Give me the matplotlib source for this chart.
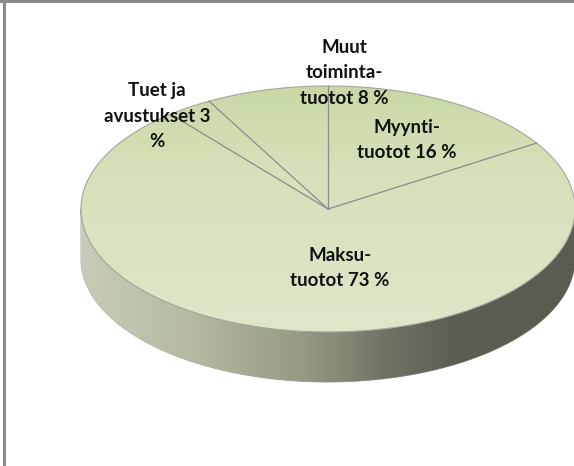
import numpy as np
import matplotlib.pyplot as plt
from matplotlib.patches import Polygon
from matplotlib.colors import LinearSegmentedColormap

# slices clockwise from 12 o'clock
labels = ['Myynti-\ntuotot 16 %', 'Maksu-\ntuotot 73 %',
          'Tuet ja\navustukset 3\n%', 'Muut\ntoiminta-\ntuotot 8 %']
shares = [16, 73, 3, 8]
# label anchors (pixel coords)
label_pos = [(407, 140), (340, 268), (157, 116), (344, 73)]

W, H = 574, 466
cx, cy = 328, 209       # ellipse centre
rx, ry = 247, 123       # ellipse radii
depth = 50

fig = plt.figure(figsize=(W / 100, H / 100), dpi=100)
ax = fig.add_axes([0, 0, 1, 1])
ax.set_xlim(0, W)
ax.set_ylim(H, 0)
ax.axis('off')


def pt(t, dy=0):
    t = np.radians(t)
    return cx + rx * np.cos(t), cy - ry * np.sin(t) + dy


# side of the cylinder (front half)
t = np.linspace(180, 360, 200)
xs, ys = pt(t)
xb, yb = pt(t[::-1], depth)
side = np.column_stack([np.r_[xs, xb], np.r_[ys, yb]])
side_patch = Polygon(side, closed=True, facecolor='none', edgecolor='#9a9a90', lw=0.6)
ax.add_patch(side_patch)
side_cmap = LinearSegmentedColormap.from_list(
    'side', [(0, '#c6ccb6'), (0.22, '#b4bba2'), (0.45, '#959a84'),
             (0.62, '#707364'), (0.75, '#5c5e53'), (1, '#5a5c52')])
grad = np.linspace(0, 1, 256)[None, :]
im = ax.imshow(grad, cmap=side_cmap, extent=[cx - rx, cx + rx, cy + ry + depth, cy - ry],
               aspect='auto', zorder=1)
im.set_clip_path(side_patch)

# top face with light vertical gradient
top_cmap = LinearSegmentedColormap.from_list(
    'top', [(0, '#c9d8a6'), (0.35, '#d5e1ba'), (1, '#dee7ca')])
t_all = np.linspace(0, 360, 400)
ex, ey = pt(t_all)
top_patch = Polygon(np.column_stack([ex, ey]), closed=True, facecolor='none',
                    edgecolor='#a0a698', lw=0.8, zorder=3)
ax.add_patch(top_patch)
im2 = ax.imshow(np.linspace(0, 1, 256)[:, None], cmap=top_cmap,
                extent=[cx - rx, cx + rx, cy + ry, cy - ry], aspect='auto', zorder=2)
im2.set_clip_path(top_patch)

# slice borders
start = 90.0
for s in shares:
    x, y = pt(start)
    ax.plot([cx, x], [cy, y], color='#8c8c8c', lw=0.9, zorder=4)
    start -= 360 * s / sum(shares)

for lab, (lx, ly) in zip(labels, label_pos):
    ax.text(lx, ly, lab, ha='center', va='center', fontsize=13.5, fontweight='bold',
            family='Lato', color='#111111', linespacing=1.6, zorder=5)

# chart frame
ax.plot([0, W], [1, 1], color='#8a8a8a', lw=2.2, zorder=6)
ax.plot([4, 4], [0, H], color='#8a8a8a', lw=2.2, zorder=6)

fig.savefig('out.png', dpi=100)
